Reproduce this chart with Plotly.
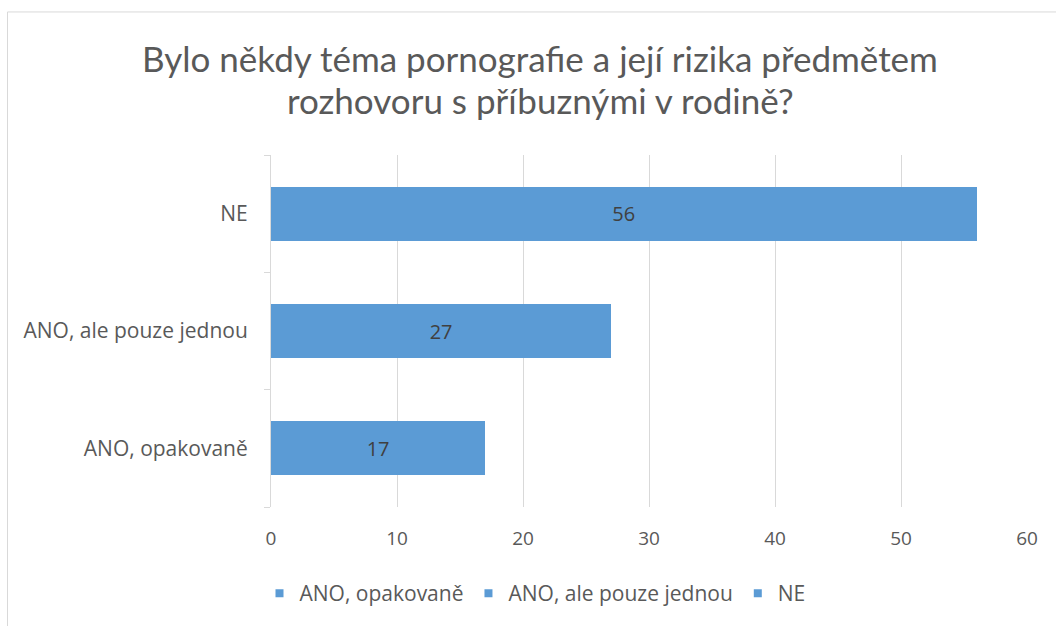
import plotly.graph_objects as go

categories = ["ANO, opakovaně", "ANO, ale pouze jednou", "NE"]
values = [17, 27, 56]
x_ticks = [0, 10, 20, 30, 40, 50, 60]
title_lines = ["Bylo někdy téma pornografie a její rizika předmětem",
               "rozhovoru s příbuznými v rodině?"]

BAR = "#5B9BD5"
TXT = "#595959"
FONT = "Open Sans, sans-serif"
TFONT = "Lato, sans-serif"

fig = go.Figure()
for c, v in zip(categories, values):
    fig.add_trace(go.Bar(
        y=[c], x=[v], name=c, orientation="h", showlegend=False,
        marker=dict(color=BAR, line=dict(width=0)),
        text=[v], textposition="inside", insidetextanchor="middle",
        textfont=dict(color="#404040", size=20, family=FONT),
        hoverinfo="x+y",
    ))
# legend entries (small square keys, as in the original)
for c in categories:
    fig.add_trace(go.Scatter(
        x=[None], y=[None], mode="markers", name=c,
        marker=dict(symbol="square", size=8, color=BAR),
        hoverinfo="skip",
    ))

W, H = 1056, 626
L, R, T, B = 271, 29, 155, 113
pw, ph = W - L - R, H - T - B

def px2paper_x(px):
    return (px - L) / pw

def px2paper_y(py):
    return (H - B - py) / ph

fig.update_layout(
    width=W, height=H,
    margin=dict(l=L, r=R, t=T, b=B),
    paper_bgcolor="white", plot_bgcolor="white",
    barmode="stack", bargap=0.54,
    font=dict(family=FONT, color=TXT, size=19),
    showlegend=True,
    legend=dict(orientation="h", x=px2paper_x(535), xanchor="center",
                y=px2paper_y(601), yanchor="middle",
                font=dict(size=21, color=TXT, family=FONT),
                traceorder="normal", itemwidth=30, tracegroupgap=0),
    xaxis=dict(range=[0, 60], tickvals=x_ticks, showgrid=True,
               gridcolor="#D9D9D9", gridwidth=1, zeroline=False,
               showline=False, ticks="", ticklabelstandoff=18,
               tickfont=dict(size=19, color=TXT, family=FONT), fixedrange=True),
    yaxis=dict(categoryorder="array", categoryarray=categories,
               showline=True, linecolor="#D9D9D9", linewidth=1,
               ticks="outside", tickson="boundaries", ticklen=6,
               tickcolor="#D9D9D9", showgrid=False, ticklabelstandoff=18,
               tickfont=dict(size=21, color=TXT, family=FONT), fixedrange=True),
)

# title lines
for i, line in enumerate(title_lines):
    fig.add_annotation(text=line, xref="paper", yref="paper",
                       x=px2paper_x(540), y=px2paper_y(56 + 43 * i),
                       xanchor="center", yanchor="middle", showarrow=False,
                       font=dict(size=35, color=TXT, family=TFONT))

# chart frame
fig.add_shape(type="rect", xref="paper", yref="paper",
              x0=px2paper_x(7.5), x1=px2paper_x(1100),
              y0=px2paper_y(700), y1=px2paper_y(9.5),
              line=dict(color="#D9D9D9", width=1), layer="below")

fig.write_html("out.html", config={"displayModeBar": False},
               post_script="document.body.style.margin='0';")
